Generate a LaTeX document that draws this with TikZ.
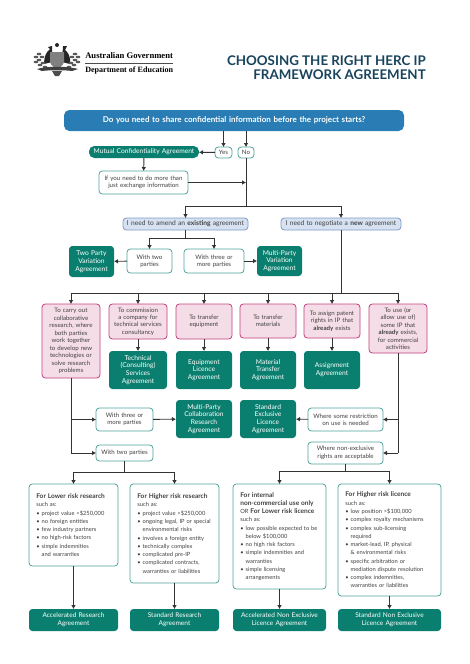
\documentclass[tikz,border=0pt]{standalone}
\usepackage{fontspec}
\setmainfont{Lato}
\newfontfamily\stemma{Liberation Serif}
\usetikzlibrary{arrows.meta}
\definecolor{barblue}{HTML}{2A7DB4}
\definecolor{agreegreen}{HTML}{0B7F6F}
\definecolor{tealedge}{HTML}{4FA39B}
\definecolor{pinkfill}{HTML}{F5DDE7}
\definecolor{pinkedge}{HTML}{C2407F}
\definecolor{needfill}{HTML}{D6E2F1}
\definecolor{neededge}{HTML}{7F9CC5}
\definecolor{titleblue}{HTML}{17435C}
\definecolor{linegrey}{HTML}{333333}
\newcommand{\voce}[1]{\par\hangindent=4pt\hangafter=1\noindent\makebox[4pt][l]{\textbullet}#1\par}
\newcommand{\testa}[1]{{\fontsize{4.9}{6.2}\selectfont\bfseries #1}}
\tikzset{
    wh/.style 2 args = {minimum width = #1*0.75pt, minimum height = #2*0.75pt, text width = #1*0.75pt - 3pt},
    basebox/.style = {rounded corners = 2.5pt, align = center, inner sep = 0pt, outer sep = 0pt, font = \fontsize{4.6}{5.6}\selectfont},
    answerbox/.style = {basebox, draw = tealedge, line width = 0.6pt, fill = white, text = black!75},
    listbox/.style 2 args = {answerbox, minimum width = #1*0.75pt, minimum height = #2*0.75pt, text width = #1*0.75pt - 11pt, align = left, font = \fontsize{4.3}{6.2}\selectfont},
    pinkbox/.style = {basebox, draw = pinkedge, line width = 0.6pt, fill = pinkfill, text = black!75},
    needbox/.style = {basebox, draw = neededge, line width = 0.6pt, fill = needfill, text = black!75},
    agreebox/.style = {basebox, fill = agreegreen, text = white, font = \fontsize{5}{5.8}\selectfont},
    esitobox/.style = {agreebox, font = \fontsize{4.9}{6.2}\selectfont},
    tratto/.style = {draw = linegrey, line width = 0.7pt},
    freccia/.style = {tratto, -{Latex[length = 3pt, width = 3.5pt]}},
}
\begin{document}
\begin{tikzpicture}[x = 0.75pt, y = -0.75pt]
    \useasboundingbox (0,0) rectangle (469,664);
    % stemma
    \fill[black!85] (57,45) circle (2);
    \fill[black!85] (44,64) .. controls (44,57) and (46,52) .. (50,49) -- (48,47) -- (52,46) -- (52,62) -- cycle;
    \fill[black!85] (70,64) .. controls (71,57) and (68,52) .. (65,50) -- (67,46) -- (63,46) -- (62,62) -- cycle;
    \fill[black!50] (50,52) -- (64,52) -- (64,62) .. controls (63,66) and (59,68) .. (57,69) .. controls (55,68) and (51,66) .. (50,62) -- cycle;
    \foreach \fx/\fy in {36/57, 39/54, 39/60, 42/57, 43/63, 36/62, 40/65, 45/67, 78/57, 75/54, 75/60, 72/57, 71/63, 78/62, 74/65, 69/67}
        \fill[black!65] (\fx,\fy) ellipse (2.4 and 1.3);
    \fill[black!75] (37,69) .. controls (46,66) and (68,66) .. (78,69) -- (72,71) .. controls (66,70) and (48,70) .. (42,71) -- cycle;
    \fill[black!70] (52,71) -- (62,71) -- (59,76) -- (55,76) -- cycle;
    \node[anchor = west, inner sep = 0pt, font = \stemma\bfseries\fontsize{6.45}{7}\selectfont] (governo) at (85,56) {Australian Government};
    \node[anchor = west, inner sep = 0pt, font = \stemma\bfseries\fontsize{6.05}{7}\selectfont] (dipartimento) at (85,70.5) {Department of Education};
    \draw[black!70, line width = 0.5pt] (85,63) -- (173,63);
    % titolo
    \node[anchor = north east, inner sep = 0pt, align = right, text = titleblue, font = \bfseries\fontsize{10}{10.6}\selectfont] (titolo) at (426,55) {CHOOSING THE RIGHT HERC IP\\FRAMEWORK AGREEMENT};
    % domanda
    \node[basebox, wh = {340}{21}, fill = barblue, text = white, rounded corners = 4pt, font = \bfseries\fontsize{6}{7}\selectfont] (domanda) at (234,120.5) {Do you need to share confidential information before the project starts?};
    \node[answerbox, wh = {17}{11}] (yes) at (223.5,152.5) {Yes};
    \node[answerbox, wh = {16}{11}] (no) at (246,152.5) {No};
    \node[agreebox, wh = {110}{12}, rounded corners = 4pt, font = \fontsize{5}{6}\selectfont] (mutual) at (144,152) {Mutual Confidentiality Agreement};
    \node[answerbox, wh = {89}{23}] (more) at (143.5,182.5) {If you need to do more than\\just exchange information};
    % accordi esistenti
    \node[needbox, wh = {125}{12}, font = \fontsize{5}{6}\selectfont] (existing) at (185.5,224) {I need to amend an \textbf{existing} agreement};
    \node[needbox, wh = {120}{12}, font = \fontsize{5}{6}\selectfont] (new) at (341,224) {I need to negotiate a \textbf{new} agreement};
    \node[answerbox, wh = {45}{24}] (twovar) at (149.5,261) {With two\\parties};
    \node[answerbox, wh = {60}{24}] (threevar) at (214,261) {With three or\\more parties};
    \node[agreebox, wh = {45}{31}] (twoparty) at (91.5,261.5) {Two Party\\Variation\\Agreement};
    \node[agreebox, wh = {45}{30}] (multiparty) at (279.5,261) {Multi-Party\\Variation\\Agreement};
    % scopi
    \node[pinkbox, wh = {58}{74}] (collab) at (71,341) {To carry out\\collaborative\\research, where\\both parties\\work together\\to develop new\\technologies or\\solve research\\problems};
    \node[pinkbox, wh = {58}{35}] (commission) at (138,321.5) {To commission\\a company for\\technical services\\consultancy};
    \node[pinkbox, wh = {56}{35}] (transferq) at (204,321.5) {To transfer\\equipment};
    \node[pinkbox, wh = {56}{34}] (transferm) at (268,321) {To transfer\\materials};
    \node[pinkbox, wh = {56}{34}] (assign) at (332,321) {To assign patent\\rights in IP that\\\textbf{already} exists};
    \node[pinkbox, wh = {58}{49}] (license) at (398,328.5) {To use (or\\allow use of)\\some IP that\\\textbf{already} exists,\\for commercial\\activities};
    % accordi
    \node[agreebox, wh = {58}{38}] (technical) at (138,370) {Technical\\(Consulting)\\Services\\Agreement};
    \node[agreebox, wh = {56}{38}] (equipment) at (204,370) {Equipment\\Licence\\Agreement};
    \node[agreebox, wh = {56}{38}] (material) at (268,370) {Material\\Transfer\\Agreement};
    \node[agreebox, wh = {56}{38}] (assignment) at (332,370) {Assignment\\Agreement};
    \node[agreebox, wh = {56}{38}] (multicollab) at (204,419) {Multi-Party\\Collaboration\\Research\\Agreement};
    \node[agreebox, wh = {56}{38}] (exclusive) at (268,419) {Standard\\Exclusive\\Licence\\Agreement};
    \node[answerbox, wh = {57}{23}] (threecollab) at (124.5,419.5) {With three or\\more parties};
    \node[answerbox, wh = {57}{16}] (twocollab) at (124.5,453) {With two parties};
    \node[answerbox, wh = {75}{23}] (restrict) at (345.5,419.5) {Where some restriction\\on use is needed};
    \node[answerbox, wh = {75}{22}] (nonexcl) at (345.5,453) {Where non-exclusive\\rights are acceptable};
    % liste
    \node[listbox = {89}{82}] (lowres) at (73.5,525) {\testa{For Lower risk research}\par such as:
        \voce{project value <\$250,000}\voce{no foreign entities}\voce{few industry partners}\voce{no high-risk factors}\voce{simple indemnities\newline and warranties}};
    \node[listbox = {89}{99}] (highres) at (174.5,533.5) {\testa{For Higher risk research}\par such as:
        \voce{project value >\$250,000}\voce{ongoing legal, IP or special\newline environmental risks}\voce{involves a foreign entity}\voce{technically complex}\voce{complicated pre-IP}\voce{complicated contracts,\newline warranties or liabilities}};
    \node[listbox = {93}{105}] (lowlic) at (279.5,536.5) {\testa{For internal}\par\testa{non-commercial use only}\par OR \testa{For Lower risk licence}\par such as:
        \voce{low possible expected to be\newline below \$100,000}\voce{no high risk factors}\voce{simple indemnities and\newline warranties}\voce{simple licensing\newline arrangements}};
    \node[listbox = {103}{112}] (highlic) at (389.5,540) {\testa{For Higher risk licence}\par such as:
        \voce{low position >\$100,000}\voce{complex royalty mechanisms}\voce{complex sub-licensing\newline required}\voce{market-lead, IP, physical\newline \& environmental risks}\voce{specific arbitration or\newline mediation dispute resolution}\voce{complex indemnities,\newline warranties or liabilities}};
    \node[esitobox, wh = {89}{22}] (accres) at (73.5,620) {Accelerated Research\\Agreement};
    \node[esitobox, wh = {89}{22}] (stdres) at (174.5,620) {Standard Research\\Agreement};
    \node[esitobox, wh = {93}{22}] (acclic) at (279.5,620) {Accelerated Non Exclusive\\Licence Agreement};
    \node[esitobox, wh = {103}{22}] (stdlic) at (389.5,620) {Standard Non Exclusive\\Licence Agreement};
    % punti di snodo
    \coordinate (snodoA) at (246,206);
    \coordinate (snodoB) at (185.5,238);
    \coordinate (snodoC) at (341,293);
    \coordinate (snodoD) at (71,453);
    \coordinate (snodoE) at (398,453);
    \coordinate (snodoF) at (124.5,472);
    \coordinate (snodoG) at (345.5,471);
    % collegamenti in alto
    \draw[freccia] (domanda.south -| yes) -- (yes);
    \draw[freccia] (domanda.south -| no) -- (no);
    \draw[freccia] (yes) -- (mutual);
    \draw[freccia] (mutual) -- (more);
    \draw[freccia] (more) -- (more -| no);
    \draw[tratto] (no) -- (snodoA);
    \draw[freccia] (snodoA) -- (snodoA -| existing) -- (existing);
    \draw[freccia] (snodoA) -- (snodoA -| new) -- (new);
    % varianti
    \draw[tratto] (existing) -- (snodoB);
    \draw[freccia] (snodoB) -- (snodoB -| twovar) -- (twovar);
    \draw[freccia] (snodoB) -- (snodoB -| threevar) -- (threevar);
    \draw[freccia] (twovar) -- (twoparty);
    \draw[freccia] (threevar) -- (multiparty);
    % scopi
    \draw[tratto] (new) -- (snodoC);
    \foreach \scopo in {collab, commission, transferq, transferm, assign, license}
        \draw[freccia] (snodoC) -- (snodoC -| \scopo) -- (\scopo);
    \draw[freccia] (commission) -- (technical);
    \draw[freccia] (transferq) -- (equipment);
    \draw[freccia] (transferm) -- (material);
    \draw[freccia] (assign) -- (assignment);
    % ricerca
    \draw[tratto] (collab) -- (snodoD);
    \draw[freccia] (snodoD |- threecollab) -- (threecollab);
    \draw[freccia] (snodoD) -- (twocollab);
    \draw[freccia] (threecollab) -- (multicollab);
    \draw[tratto] (twocollab) -- (snodoF);
    \draw[freccia] (snodoF) -- (snodoF -| lowres) -- (lowres);
    \draw[freccia] (snodoF) -- (snodoF -| highres) -- (highres);
    % licenze
    \draw[tratto] (license) -- (snodoE);
    \draw[freccia] (snodoE |- restrict) -- (restrict);
    \draw[freccia] (snodoE) -- (nonexcl);
    \draw[freccia] (restrict) -- (exclusive);
    \draw[tratto] (nonexcl) -- (snodoG);
    \draw[freccia] (snodoG) -- (snodoG -| lowlic) -- (lowlic);
    \draw[freccia] (snodoG) -- (snodoG -| highlic) -- (highlic);
    % esiti
    \draw[freccia] (lowres) -- (accres);
    \draw[freccia] (highres) -- (stdres);
    \draw[freccia] (lowlic) -- (acclic);
    \draw[freccia] (highlic) -- (stdlic);
\end{tikzpicture}
\end{document}
